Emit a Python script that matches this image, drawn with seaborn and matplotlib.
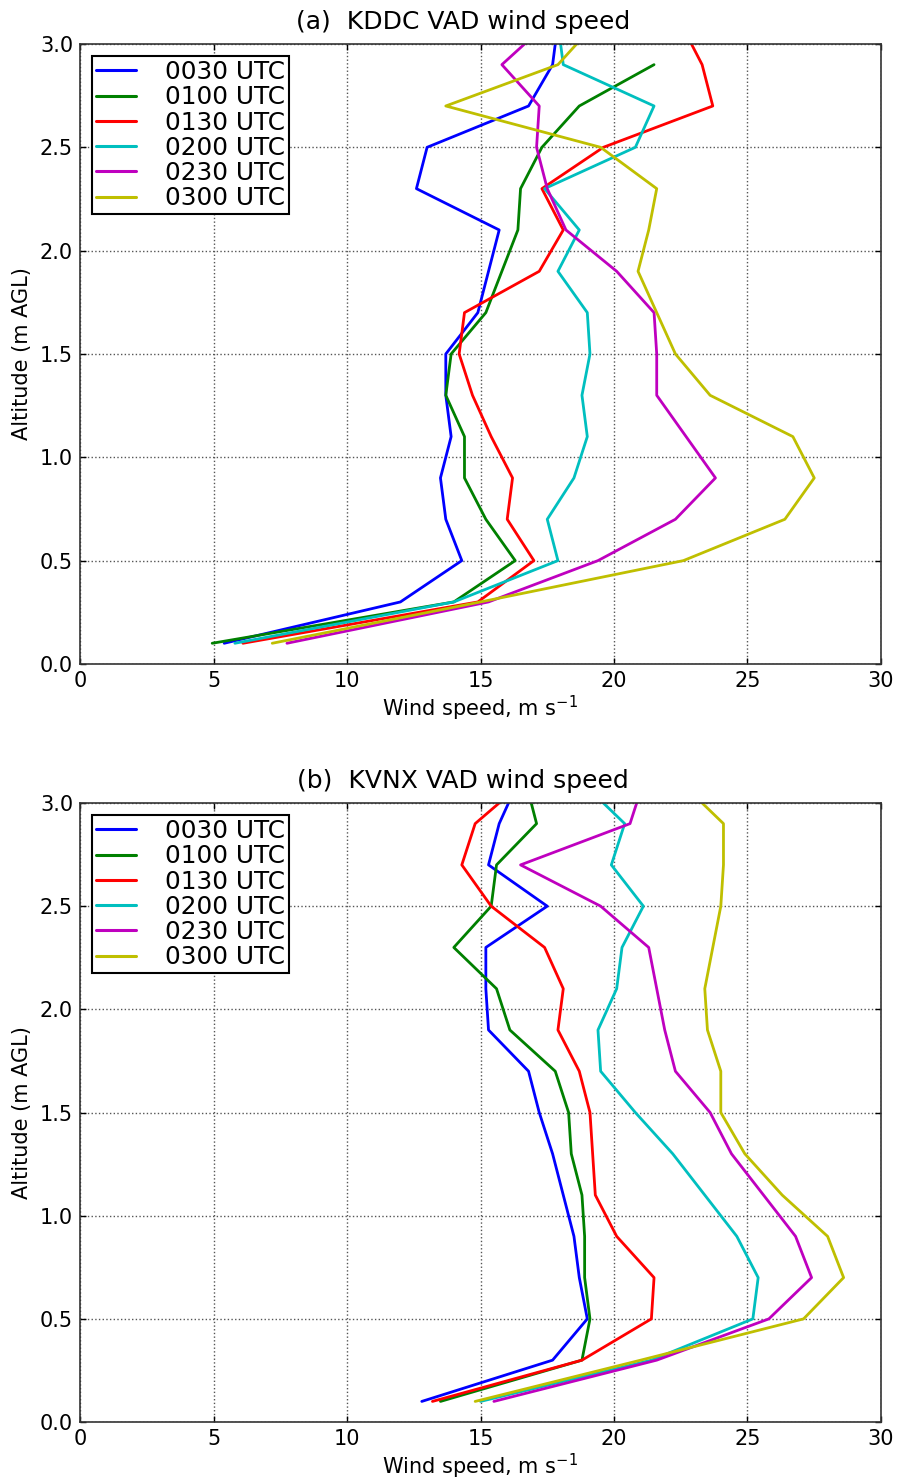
import matplotlib
matplotlib.use("Agg")
import matplotlib.pyplot as plt
import pandas as pd
import seaborn as sns

# VAD sample heights (km AGL) and analysis times
heights = [0.1, 0.3, 0.5, 0.7, 0.9, 1.1, 1.3, 1.5, 1.7, 1.9, 2.1, 2.3, 2.5, 2.7, 2.9, 3.1]
times = ["0030 UTC", "0100 UTC", "0130 UTC", "0200 UTC", "0230 UTC", "0300 UTC"]
line_colors = ["#0000ff", "#008000", "#ff0000", "#00bfbf", "#bf00bf", "#bfbf00"]

# KDDC wind speed profiles (m/s)
kddc_0030 = [5.4, 12.0, 14.3, 13.7, 13.5, 13.9, 13.7, 13.7, 14.9, 15.3, 15.7, 12.6, 13.0, 16.8, 17.7, 17.9]
kddc_0100 = [4.95, 14.0, 16.3, 15.2, 14.4, 14.4, 13.7, 13.9, 15.2, 15.8, 16.4, 16.5, 17.3, 18.7, 21.5]
kddc_0130 = [6.1, 14.9, 17.0, 16.0, 16.2, 15.4, 14.7, 14.2, 14.4, 17.2, 18.1, 17.3, 19.6, 23.7, 23.3, 22.5]
kddc_0200 = [5.8, 14.0, 17.9, 17.5, 18.5, 19.0, 18.8, 19.1, 19.0, 17.9, 18.7, 17.4, 20.8, 21.5, 18.1, 17.9]
kddc_0230 = [7.75, 15.3, 19.4, 22.3, 23.8, 22.7, 21.6, 21.6, 21.5, 20.1, 18.2, 17.5, 17.1, 17.2, 15.8, 17.5]
kddc_0300 = [7.2, 15.0, 22.6, 26.4, 27.5, 26.7, 23.6, 22.3, 21.6, 20.9, 21.3, 21.6, 19.5, 13.7, 17.9, 19.3]

# KVNX wind speed profiles (m/s)
kvnx_0030 = [12.8, 17.7, 19.0, 18.7, 18.5, 18.1, 17.7, 17.2, 16.8, 15.3, 15.2, 15.2, 17.5, 15.3, 15.7, 16.4]
kvnx_0100 = [13.5, 18.8, 19.1, 18.9, 18.9, 18.8, 18.4, 18.3, 17.8, 16.1, 15.6, 14.0, 15.4, 15.6, 17.1, 16.7]
kvnx_0130 = [13.2, 18.8, 21.4, 21.5, 20.1, 19.3, 19.2, 19.1, 18.7, 17.9, 18.1, 17.4, 15.4, 14.3, 14.8, 16.6]
kvnx_0200 = [15.0, 21.4, 25.2, 25.4, 24.6, 23.4, 22.2, 20.8, 19.5, 19.4, 20.1, 20.3, 21.1, 19.9, 20.4, 18.8]
kvnx_0230 = [15.5, 21.6, 25.8, 27.4, 26.8, 25.6, 24.4, 23.6, 22.3, 21.9, 21.6, 21.3, 19.5, 16.5, 20.6, 21.1]
kvnx_0300 = [14.8, 21.0, 27.1, 28.6, 28.0, 26.3, 24.9, 24.0, 24.0, 23.5, 23.4, 23.7, 24.0, 24.1, 24.1, 22.5]

x_ticks = [0, 5, 10, 15, 20, 25, 30]
y_ticks = [0.0, 0.5, 1.0, 1.5, 2.0, 2.5, 3.0]


def profiles_frame(profiles):
    rows = []
    for label, speeds in zip(times, profiles):
        for h, s in zip(heights, speeds):
            rows.append({"time": label, "height": h, "speed": s})
    return pd.DataFrame(rows)


panels = [
    ("(a)  KDDC VAD wind speed",
     profiles_frame([kddc_0030, kddc_0100, kddc_0130, kddc_0200, kddc_0230, kddc_0300])),
    ("(b)  KVNX VAD wind speed",
     profiles_frame([kvnx_0030, kvnx_0100, kvnx_0130, kvnx_0200, kvnx_0230, kvnx_0300])),
]

sns.set_theme(style="ticks", rc={
    "xtick.direction": "in", "ytick.direction": "in",
    "xtick.top": True, "ytick.right": True,
    "xtick.major.size": 4, "ytick.major.size": 4,
    "axes.edgecolor": "#333333", "axes.linewidth": 1.2,
    "text.color": "black", "axes.labelcolor": "black",
    "xtick.color": "black", "ytick.color": "black",
})
plt.rcParams["font.family"] = ["DejaVu Sans"]

fig = plt.figure(figsize=(9.01, 14.81), dpi=100)
axes_boxes = [[0.0888, 0.5517, 0.889, 0.4186], [0.0888, 0.0398, 0.889, 0.4180]]

for (title, df), box in zip(panels, axes_boxes):
    ax = fig.add_axes(box)
    sns.lineplot(data=df, x="speed", y="height", hue="time", hue_order=times,
                 palette=line_colors, orient="y", estimator=None, sort=True,
                 linewidth=2.0, ax=ax)
    ax.set_xlim(0, 30)
    ax.set_ylim(0, 3.0)
    ax.set_xticks(x_ticks)
    ax.set_yticks(y_ticks)
    ax.set_yticklabels([f"{v:.1f}" for v in y_ticks])
    ax.tick_params(labelsize=15, width=1.0, pad=5)
    ax.grid(True, linestyle=":", color="#555555", linewidth=1.0)
    ax.set_xlabel("Wind speed, m s$^{-1}$", fontsize=15, labelpad=2)
    ax.set_ylabel("Altitude (m AGL)", fontsize=15, labelpad=6)
    ax.set_title(title, fontsize=18, pad=11, x=0.478)
    leg = ax.legend(loc="upper left", fontsize=17.8, handlelength=1.6,
                    handletextpad=1.2, borderpad=0.15, labelspacing=0.05,
                    borderaxespad=0.5, fancybox=False, framealpha=1.0,
                    edgecolor="black")
    leg.get_frame().set_linewidth(1.5)
    for line in leg.get_lines():
        line.set_linewidth(2.2)

fig.savefig("out.png", dpi=100)
